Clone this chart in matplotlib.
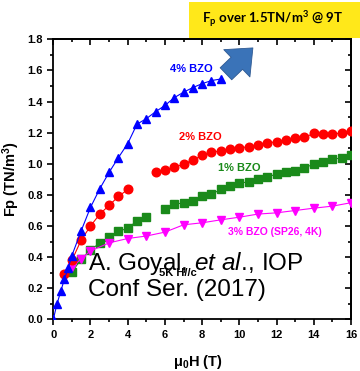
import matplotlib
matplotlib.use("Agg")
import matplotlib.pyplot as plt
from matplotlib.patches import Rectangle, FancyArrowPatch
from matplotlib.ticker import MultipleLocator, NullFormatter

plt.rcParams['font.family'] = ['Liberation Sans', 'DejaVu Sans']
plt.rcParams['mathtext.fontset'] = 'custom'
plt.rcParams['mathtext.rm'] = 'Liberation Sans'
plt.rcParams['mathtext.it'] = 'Liberation Sans:italic'

# 4% BZO
h4 = [0, 0.2, 0.4, 0.6, 0.8, 1.0, 1.5, 2.0, 2.5, 3.0, 3.5, 4.0, 4.5, 5.0,
      5.5, 6.0, 6.5, 7.0, 7.5, 8.0, 8.5, 9.0]
fp4 = [0, 0.10, 0.18, 0.26, 0.33, 0.41, 0.57, 0.72, 0.84, 0.945, 1.04, 1.13,
       1.255, 1.29, 1.335, 1.375, 1.425, 1.46, 1.49, 1.515, 1.535, 1.545]

# 2% BZO (two runs)
h2a = [0.6, 1.0, 1.5, 2.0, 2.5, 3.0, 3.5, 4.0]
fp2a = [0.29, 0.38, 0.51, 0.60, 0.677, 0.733, 0.79, 0.835]
h2b = [5.5, 6.0, 6.5, 7.0, 7.5, 8.0, 8.5, 9.0, 9.5, 10.0, 10.5, 11.0,
       11.5, 12.0, 12.5, 13.0, 13.5, 14.0, 14.5, 15.0, 15.5, 16.0]
fp2b = [0.949, 0.961, 0.977, 0.998, 1.024, 1.054, 1.073, 1.084, 1.095, 1.103,
        1.109, 1.122, 1.135, 1.141, 1.152, 1.165, 1.17, 1.195, 1.189, 1.189,
        1.20, 1.208]

# 1% BZO (two runs)
h1a = [1.0, 1.5, 2.0, 2.5, 3.0, 3.5, 4.0, 4.5, 5.0]
fp1a = [0.306, 0.386, 0.445, 0.492, 0.531, 0.567, 0.585, 0.634, 0.657]
h1b = [6.0, 6.5, 7.0, 7.5, 8.0, 8.5, 9.0, 9.5, 10.0, 10.5, 11.0, 11.5,
       12.0, 12.5, 13.0, 13.5, 14.0, 14.5, 15.0, 15.5, 16.0]
fp1b = [0.707, 0.739, 0.75, 0.762, 0.794, 0.805, 0.835, 0.857, 0.876, 0.884,
        0.90, 0.915, 0.934, 0.949, 0.955, 0.974, 0.998, 1.013, 1.028, 1.039,
        1.054]

# 3% BZO (SP26, 4K)
h3 = [1.0, 1.5, 2.0, 3.0, 4.0, 5.0, 6.0, 7.0, 8.0, 9.0, 10.0, 11.0, 12.0,
      13.0, 14.0, 15.0, 16.0]
fp3 = [0.334, 0.39, 0.44, 0.492, 0.52, 0.536, 0.561, 0.608, 0.621, 0.64,
       0.657, 0.677, 0.685, 0.70, 0.715, 0.728, 0.75]

BLUE = '#0000ff'
RED = '#ff0000'
GREEN = '#1a8a1a'
MAG = '#ff00ff'

fig = plt.figure(figsize=(3.6, 3.71), dpi=100)
ax = fig.add_axes([0.148, 0.139, 0.827, 0.755])

ms = 6.2
ax.plot(h4, fp4, '-^', color=BLUE, lw=0.8, ms=ms, zorder=5)
ax.plot(h2a, fp2a, '-o', color=RED, lw=0.8, ms=ms, zorder=4)
ax.plot(h2b, fp2b, '-o', color=RED, lw=0.8, ms=ms, zorder=4)
ax.plot(h1a, fp1a, '-s', color=GREEN, lw=0.8, ms=ms - 0.8, zorder=3)
ax.plot(h1b, fp1b, '-s', color=GREEN, lw=0.8, ms=ms - 0.8, zorder=3)
ax.plot(h3, fp3, '-v', color=MAG, lw=0.8, ms=ms, zorder=3)

ax.set_xlim(0, 16)
ax.set_ylim(0, 1.8)
ax.xaxis.set_major_locator(MultipleLocator(2))
ax.xaxis.set_minor_locator(MultipleLocator(1))
ax.yaxis.set_major_locator(MultipleLocator(0.2))
ax.yaxis.set_minor_locator(MultipleLocator(0.1))
ax.yaxis.set_major_formatter(plt.FuncFormatter(lambda v, p: f'{v:.1f}'))
ax.tick_params(which='both', direction='out', width=1.2, labelsize=8)
ax.tick_params(which='major', length=4)
ax.tick_params(which='minor', length=2.5)
for lab in ax.get_xticklabels() + ax.get_yticklabels():
    lab.set_fontweight('bold')
for s in ax.spines.values():
    s.set_linewidth(1.3)

# mirrored ticks on top and right, pointing inward
for sec, step in ((ax.secondary_xaxis('top'), 2), (ax.secondary_yaxis('right'), 0.2)):
    axis = sec.xaxis if sec._orientation == 'x' else sec.yaxis
    axis.set_major_locator(MultipleLocator(step))
    axis.set_minor_locator(MultipleLocator(step / 2))
    axis.set_major_formatter(NullFormatter())
    sec.tick_params(which='both', direction='in', width=1.2)
    sec.tick_params(which='major', length=4)
    sec.tick_params(which='minor', length=2.5)
    for s in sec.spines.values():
        s.set_linewidth(1.3)

ax.set_xlabel('μ$_\\mathregular{0}$H (T)', fontsize=10.5, fontweight='bold')
ax.set_ylabel('Fp (TN/m$^\\mathregular{3}$)', fontsize=10.5, fontweight='bold', labelpad=4)
ax.xaxis.label.set_va('center')
ax.xaxis.set_label_coords(0.485, -0.152)

ax.text(7.4, 1.61, '4% BZO', color=BLUE, fontsize=8, fontweight='bold', ha='center', va='center')
ax.text(7.9, 1.17, '2% BZO', color=RED, fontsize=8, fontweight='bold', ha='center', va='center')
ax.text(10.0, 0.97, '1% BZO', color=GREEN, fontsize=8, fontweight='bold', ha='center', va='center')
ax.text(11.9, 0.56, '3% BZO (SP26, 4K)', color=MAG, fontsize=7.5, fontweight='bold', ha='center', va='center')
ax.text(6.7, 0.30, '5K H//c', color='black', fontsize=8, fontweight='bold',
        ha='center', va='center', zorder=5.5)
ax.text(1.85, 0.285, 'A. Goyal, $\\mathit{et\\ al.}\\!\\mathregular{,}$ IOP\nConf Ser. (2017)',
        fontsize=17.5, ha='left', va='center', linespacing=1.12, zorder=6)

# highlight box and arrow at the top
fig.patches.append(Rectangle((0.525, 0.898), 0.48, 0.097, transform=fig.transFigure,
                             facecolor='#ffe81a', edgecolor='none'))
fig.text(0.757, 0.946, 'F$_\\mathregular{p}$ over 1.5TN/m$^\\mathregular{3}$ @ 9T',
         fontsize=9.5, fontweight='bold', family=['Lato', 'DejaVu Sans'],
         ha='center', va='center')
fig.patches.append(FancyArrowPatch((0.622, 0.796), (0.708, 0.876), transform=fig.transFigure,
                                   arrowstyle='simple,head_width=1.7,head_length=1.0,tail_width=0.75',
                                   mutation_scale=16, facecolor='#3a73b8', edgecolor='#2f5a93',
                                   lw=0.6))

fig.savefig('out.png', dpi=100)
